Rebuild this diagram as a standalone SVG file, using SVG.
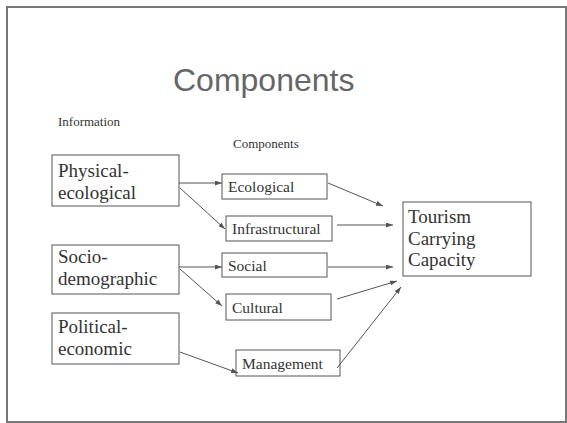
<svg xmlns="http://www.w3.org/2000/svg" width="567" height="423" viewBox="0 0 567 423">
<style>
.box{fill:#fff;stroke:#555;stroke-width:1}
.t{font-family:"Liberation Serif","Times New Roman",serif;fill:#333}
.big{font-size:19px}
.sm{font-size:15.5px}
.con{stroke:#555;stroke-width:1;fill:none;marker-end:url(#ah)}
</style>
<defs>
<marker id="ah" viewBox="0 0 7 5" refX="7" refY="2.5" markerWidth="7" markerHeight="5" markerUnits="userSpaceOnUse" orient="auto">
<path d="M0,0 L7,2.5 L0,5 z" fill="#555"/>
</marker>
</defs>
<rect x="0" y="0" width="567" height="423" fill="#fff"/>
<rect x="7" y="7" width="559" height="415" fill="none" stroke="#777" stroke-width="2"/>
<text x="173" y="91" font-family="Liberation Sans,Arial,sans-serif" font-size="32" fill="#666">Components</text>
<text class="t" x="58" y="126" font-size="13">Information</text>
<text class="t" x="233" y="148" font-size="13">Components</text>

<g id="physical">
<rect class="box" x="52" y="155" width="127" height="51"/>
<text class="t big" x="58" y="177">Physical-</text>
<text class="t big" x="58" y="199">ecological</text>
</g>
<g id="socio">
<rect class="box" x="52" y="245" width="127" height="49"/>
<text class="t big" x="58" y="263">Socio-</text>
<text class="t big" x="58" y="285">demographic</text>
</g>
<g id="political">
<rect class="box" x="52" y="313" width="127" height="51"/>
<text class="t big" x="58" y="333">Political-</text>
<text class="t big" x="58" y="355">economic</text>
</g>
<g id="ecological">
<rect class="box" x="222" y="174" width="105" height="25"/>
<text class="t sm" x="228" y="192">Ecological</text>
</g>
<g id="infrastructural">
<rect class="box" x="226" y="216" width="106" height="25"/>
<text class="t sm" x="232" y="234">Infrastructural</text>
</g>
<g id="social">
<rect class="box" x="222" y="253" width="105" height="24"/>
<text class="t sm" x="228" y="271">Social</text>
</g>
<g id="cultural">
<rect class="box" x="226" y="294" width="105" height="26"/>
<text class="t sm" x="232" y="313">Cultural</text>
</g>
<g id="management">
<rect class="box" x="236" y="350" width="104" height="26"/>
<text class="t sm" x="242" y="369">Management</text>
</g>
<g id="tourism">
<rect class="box" x="403" y="202" width="128" height="74" stroke="#444"/>
<text class="t big" x="408" y="223">Tourism</text>
<text class="t big" x="408" y="245">Carrying</text>
<text class="t big" x="408" y="266">Capacity</text>
</g>

<g id="connectors">
<line class="con" x1="179" y1="183" x2="222" y2="183"/>
<line class="con" x1="180" y1="188" x2="225" y2="229"/>
<line class="con" x1="179" y1="267" x2="222" y2="267"/>
<line class="con" x1="180" y1="269" x2="222" y2="306"/>
<line class="con" x1="180" y1="352" x2="238" y2="373"/>
<line class="con" x1="328" y1="183" x2="383" y2="206"/>
<line class="con" x1="337" y1="225" x2="393" y2="225"/>
<line class="con" x1="328" y1="267" x2="393" y2="267"/>
<line class="con" x1="337" y1="299" x2="397" y2="281"/>
<line class="con" x1="337" y1="368" x2="401" y2="287"/>
</g>
</svg>
